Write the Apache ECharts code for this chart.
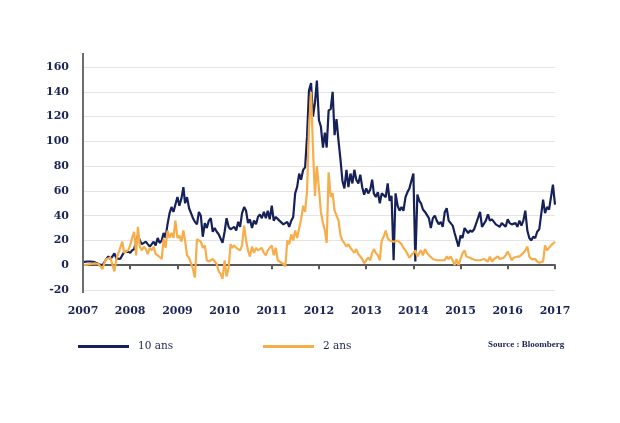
<!DOCTYPE html>
<html><head><meta charset="utf-8">
<script src="https://cdn.jsdelivr.net/npm/echarts@6/dist/echarts.min.js"></script>
<style>html,body{margin:0;padding:0;background:#fff}#c{width:620px;height:423px}</style>
</head><body><div id="c"></div>
<script>
const dates = [
'2007-01-01','2007-01-16','2007-02-01','2007-02-16','2007-03-01','2007-03-16','2007-04-01','2007-04-16','2007-05-01','2007-05-16','2007-06-01','2007-06-16','2007-07-01','2007-07-16','2007-08-01','2007-08-16','2007-09-01','2007-09-16','2007-10-01','2007-10-16','2007-11-01','2007-11-16','2007-12-01','2007-12-16',
'2008-01-01','2008-01-16','2008-02-01','2008-02-16','2008-03-01','2008-03-16','2008-04-01','2008-04-16','2008-05-01','2008-05-16','2008-06-01','2008-06-16','2008-07-01','2008-07-16','2008-08-01','2008-08-16','2008-09-01','2008-09-16','2008-10-01','2008-10-16','2008-11-01','2008-11-16','2008-12-01','2008-12-16',
'2009-01-01','2009-01-16','2009-02-01','2009-02-16','2009-03-01','2009-03-16','2009-04-01','2009-04-16','2009-05-01','2009-05-16','2009-06-01','2009-06-16','2009-07-01','2009-07-16','2009-08-01','2009-08-16','2009-09-01','2009-09-16','2009-10-01','2009-10-16','2009-11-01','2009-11-16','2009-12-01','2009-12-16',
'2010-01-01','2010-01-16','2010-02-01','2010-02-16','2010-03-01','2010-03-16','2010-04-01','2010-04-16','2010-05-01','2010-05-16','2010-06-01','2010-06-16','2010-07-01','2010-07-16','2010-08-01','2010-08-16','2010-09-01','2010-09-16','2010-10-01','2010-10-16','2010-11-01','2010-11-16','2010-12-01','2010-12-16',
'2011-01-01','2011-01-16','2011-02-01','2011-02-16','2011-03-01','2011-03-16','2011-04-01','2011-04-16','2011-05-01','2011-05-16','2011-06-01','2011-06-16','2011-07-01','2011-07-16','2011-08-01','2011-08-16','2011-09-01','2011-09-16','2011-10-01','2011-10-16','2011-11-01','2011-11-16','2011-12-01','2011-12-16',
'2012-01-01','2012-01-16','2012-02-01','2012-02-16','2012-03-01','2012-03-16','2012-04-01','2012-04-16','2012-05-01','2012-05-16','2012-06-01','2012-06-16','2012-07-01','2012-07-16','2012-08-01','2012-08-16','2012-09-01','2012-09-16','2012-10-01','2012-10-16','2012-11-01','2012-11-16','2012-12-01','2012-12-16',
'2013-01-01','2013-01-16','2013-02-01','2013-02-16','2013-03-01','2013-03-16','2013-04-01','2013-04-16','2013-05-01','2013-05-16','2013-06-01','2013-06-16','2013-07-01','2013-07-16','2013-08-01','2013-08-16','2013-09-01','2013-09-16','2013-10-01','2013-10-16','2013-11-01','2013-11-16','2013-12-01','2013-12-16',
'2014-01-01','2014-01-16','2014-02-01','2014-02-16','2014-03-01','2014-03-16','2014-04-01','2014-04-16','2014-05-01','2014-05-16','2014-06-01','2014-06-16','2014-07-01','2014-07-16','2014-08-01','2014-08-16','2014-09-01','2014-09-16','2014-10-01','2014-10-16','2014-11-01','2014-11-16','2014-12-01','2014-12-16',
'2015-01-01','2015-01-16','2015-02-01','2015-02-16','2015-03-01','2015-03-16','2015-04-01','2015-04-16','2015-05-01','2015-05-16','2015-06-01','2015-06-16','2015-07-01','2015-07-16','2015-08-01','2015-08-16','2015-09-01','2015-09-16','2015-10-01','2015-10-16','2015-11-01','2015-11-16','2015-12-01','2015-12-16',
'2016-01-01','2016-01-16','2016-02-01','2016-02-16','2016-03-01','2016-03-16','2016-04-01','2016-04-16','2016-05-01','2016-05-16','2016-06-01','2016-06-16','2016-07-01','2016-07-16','2016-08-01','2016-08-16','2016-09-01','2016-09-16','2016-10-01','2016-10-16','2016-11-01','2016-11-16','2016-12-01','2016-12-16',
'2017-01-01'
];

const tenYear = [
2.5,3,3,3,3,2.5,2.5,2,1,0.5,0,1,5,7,5,7,9.5,5.5,4,5,8,10.8,12,11,
10,12,13,20,24,20,17,18,19,17,15,17,19,16,22,18,20,26,22,33,42,47,43,42,
55,48,54,63,50,55,46,42,38,35,33,43,40,23,34,30,36,38,27,30,27,25,24,18,
27,38,31,29,30,31,28,35,31,42,47,44,34,37,30,36,33,39,41,38,43,38,44,37,
48,36,39,40,36,35,33,32,35,31,36,39,58,63,74,69,77,79,104,141,147,120,131,149,
117,112,95,107,95,125,126,140,105,118,100,85,68,62,77,63,74,66,77,69,66,73,63,57,
62,58,61,69,58,55,59,50,58,57,55,66,52,56,4,58,48,44,47,44,55,59,62,68,
74,3,57,52,50,45,43,44,38,30,38,40,36,33,35,31,43,46,36,36,32,26,27,15,
24,22,30,30,26,28,27,29,30,38,43,31,30,36,41,36,37,35,33,32,31,34,35,31,
37,34,33,32,34,31,36,32,36,44,28,22,20,23,22,27,29,28,53,42,47,45,55,65,
49
];

const twoYear = [
0,1,0.5,2,1,0.5,1.5,0.5,1,-1,-3,2,5,4,6,7,-5,5,4,14,19,10,11,12,
16,22,27,8,31,15,12,15,13,9,14,12,15,9,8,7,5,21,14,28,22,26,22,36,
22,24,19,28,20,8,6,7,-3,-10,21,20,19,14,16,4,3,4,5,3,1,-5,-7,-11,
4,-9,-2,17,14,16,14,15,12,16,32,20,12,7,15,10,14,12,11,14,10,8,12,14,
16,8,14,4,3,2,1,-1,20,17,25,20,28,22,30,37,48,43,60,110,140,94,56,80,
62,43,34,28,18,75,55,58,44,45,36,24,20,19,15,17,14,12,10,13,9,9.5,5,1.5,
4,6,4,10,13,10,8,4,20,23,28,22,20,20,19,20,20,19,17,14,12,9,6,8,
10,12,7,10,12,8,13,10,8,7,5,4,4,3,4,5,4,7,5,7,4,0,5,0,
5,9.5,12,7,7,6,5,4,4,3,4,3,5,5,3,7,3,5,4,7,5,4,6,8,
11,8,4,6,7,7,7,6,10,12,15,7,5,4,5,3,2,1,3,16,12,14,16,17.5,
19
];

const seriesNames = ['10 ans', '2 ans'];
const sourceText = 'Source : Bloomberg';

const NAVY = '#16215a';
const ORANGE = '#f8ad4b';
const TXT = '#1b2454';
const SERIF = '"DejaVu Serif", "Liberation Serif", serif';

const chart = echarts.init(document.getElementById('c'), null, {renderer: 'canvas'});
chart.setOption({
  animation: false,
  backgroundColor: '#fff',
  grid: {left: 83, right: 65, top: 67, bottom: 133, containLabel: false},
  xAxis: {
    type: 'time',
    min: '2007-01-01',
    max: '2017-01-01',
    splitNumber: 10,
    axisLine: {onZero: true, lineStyle: {color: '#5a5a5a', width: 2}},
    axisTick: {show: true, length: 4, lineStyle: {color: '#5a5a5a', width: 2}},
    splitLine: {show: false},
    axisLabel: {
      margin: 16,
      color: TXT,
      fontFamily: SERIF,
      fontWeight: 'bold',
      fontSize: 11,
      showMinLabel: true,
      showMaxLabel: true,
      formatter: function (v) { return String(new Date(v).getFullYear()); }
    }
  },
  yAxis: {
    type: 'value',
    min: -20, max: 160, interval: 20,
    axisLine: {show: false},
    axisTick: {show: false},
    splitLine: {lineStyle: {color: '#e4e4e4', width: 1}},
    axisLabel: {margin: 14, color: TXT, fontFamily: SERIF, fontWeight: 'bold', fontSize: 11}
  },
  legend: [
    {left: 78, top: 341, padding: 0, data: [seriesNames[0]], icon: 'rect', itemWidth: 51, itemHeight: 3,
     textStyle: {fontFamily: SERIF, fontSize: 10.5, color: TXT, padding: [0,0,0,4]}},
    {left: 263, top: 341, padding: 0, data: [seriesNames[1]], icon: 'rect', itemWidth: 51, itemHeight: 3,
     textStyle: {fontFamily: SERIF, fontSize: 10.5, color: TXT, padding: [0,0,0,4]}}
  ],
  graphic: [
    {type: 'line', z: 10, shape: {x1: 83, y1: 53, x2: 83, y2: 293}, style: {stroke: '#6e6e6e', lineWidth: 2}},
    {type: 'text', left: 488, top: 340, style: {text: sourceText, fill: TXT, font: 'bold 9px "Liberation Serif", serif'}}
  ],
  series: [
    {name: seriesNames[0], type: 'line', showSymbol: false, symbol: 'none',
     data: dates.map((d, i) => [d, tenYear[i]]),
     lineStyle: {color: NAVY, width: 2.2}, itemStyle: {color: NAVY}},
    {name: seriesNames[1], type: 'line', showSymbol: false, symbol: 'none',
     data: dates.map((d, i) => [d, twoYear[i]]),
     lineStyle: {color: ORANGE, width: 2.2}, itemStyle: {color: ORANGE}}
  ]
});
</script></body></html>
